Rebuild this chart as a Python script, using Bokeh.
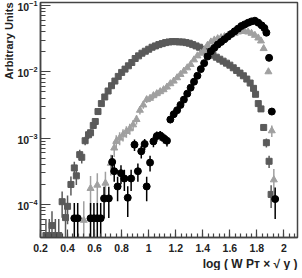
import numpy as np
from bokeh.plotting import figure
from bokeh.models import Range1d, SingleIntervalTicker, LogTicker, CustomJSTickFormatter, Title
from bokeh.embed import file_html
from bokeh.resources import INLINE

# ---- data (x = log(W PT sqrt y), y values given as log10 of arbitrary units) ----
sq_x = [0.24, 0.265, 0.285, 0.31, 0.335, 0.36, 0.385, 0.40, 0.425, 0.45, 0.465, 0.49, 0.505, 0.53, 0.555,
        0.57, 0.59, 0.605, 0.625, 0.65, 0.675, 0.70, 0.725, 0.75, 0.775, 0.80, 0.825, 0.85, 0.875, 0.90,
        0.925, 0.95, 0.975, 1.00, 1.025, 1.05, 1.075, 1.10, 1.125, 1.15, 1.175, 1.20, 1.225, 1.25, 1.275,
        1.30, 1.325, 1.35, 1.375, 1.40, 1.425, 1.45, 1.475, 1.50, 1.525, 1.55, 1.575, 1.60, 1.625, 1.65,
        1.675, 1.70, 1.725, 1.75, 1.775, 1.79, 1.81, 1.83, 1.85, 1.87, 1.89, 1.905]
sq_log = [-4.47, -4.47, -4.32, -4.47, -4.47, -3.96, -4.2, -4.03, -3.70, -3.45, -3.57, -3.25, -3.29, -3.04, -2.95,
          -2.92, -2.81, -2.75, -2.6, -2.48, -2.38, -2.29, -2.21, -2.14, -2.07, -2.01, -1.96, -1.91, -1.86, -1.80,
          -1.76, -1.72, -1.69, -1.66, -1.63, -1.61, -1.59, -1.575, -1.56, -1.55, -1.545, -1.545, -1.55, -1.55, -1.56,
          -1.57, -1.59, -1.61, -1.63, -1.66, -1.69, -1.72, -1.75, -1.78, -1.81, -1.84, -1.87, -1.90, -1.94, -1.98,
          -2.02, -2.06, -2.11, -2.17, -2.25, -2.34, -2.48, -2.56, -2.84, -3.07, -3.35, -3.85]

tr_x = [0.52, 0.57, 0.62, 0.68, 0.72, 0.745, 0.76, 0.785, 0.81, 0.835, 0.86, 0.885, 0.91, 0.935, 0.96,
        0.985, 1.01, 1.035, 1.06, 1.085, 1.11, 1.135, 1.16, 1.185, 1.21, 1.235, 1.26, 1.285, 1.31, 1.335,
        1.36, 1.385, 1.41, 1.435, 1.46, 1.485, 1.51, 1.535, 1.56, 1.585, 1.61, 1.635, 1.66, 1.685, 1.71,
        1.735, 1.76, 1.785, 1.81, 1.83, 1.85, 1.885, 1.91, 1.925]
tr_log = [-4.24, -3.76, -3.71, -3.68, -3.38, -3.15, -3.05, -3.0, -2.95, -2.9, -2.86, -2.8, -2.72, -2.58, -2.5,
          -2.42, -2.4, -2.36, -2.33, -2.3, -2.27, -2.23, -2.18, -2.14, -2.09, -2.04, -1.99, -1.94, -1.89, -1.82,
          -1.76, -1.72, -1.68, -1.6, -1.55, -1.52, -1.5, -1.485, -1.47, -1.45, -1.435, -1.42, -1.40, -1.39, -1.39,
          -1.4, -1.42, -1.45, -1.49, -1.535, -1.65, -2.0, -2.89, -3.63]

ci_x = [0.45, 0.475, 0.57, 0.595, 0.62, 0.645, 0.67, 0.705, 0.73, 0.745, 0.77, 0.795, 0.82, 0.845, 0.87,
        0.895, 0.92, 0.945, 0.97, 0.985, 1.01, 1.035, 1.06, 1.085, 1.11, 1.135, 1.16, 1.185, 1.21, 1.235,
        1.26, 1.285, 1.31, 1.335, 1.36, 1.385, 1.41, 1.435, 1.46, 1.485, 1.51, 1.535, 1.56, 1.585, 1.61,
        1.635, 1.66, 1.685, 1.71, 1.735, 1.76, 1.785, 1.81, 1.835, 1.855, 1.87, 1.89, 1.91, 1.935]
ci_log = [-4.21, -4.21, -4.21, -4.21, -4.21, -4.21, -3.91, -3.91, -3.36, -3.5, -3.73, -3.53, -3.61, -3.9, -3.61,
          -3.1, -3.5, -3.2, -3.09, -3.73, -3.37, -3.05, -2.97, -2.96, -3.0, -3.04, -2.72, -2.64, -2.58, -2.5,
          -2.42, -2.33, -2.24, -2.15, -2.06, -1.96, -1.87, -1.77, -1.69, -1.64, -1.59, -1.55, -1.51, -1.47, -1.43,
          -1.39, -1.35, -1.31, -1.285, -1.26, -1.24, -1.23, -1.26, -1.3, -1.34, -1.41, -1.79, -2.6, -3.92]

# per-event weight of each sample (sets the size of the statistical error bars)
sq_unit, tr_unit, ci_unit = 2e-5, 5e-5, 3e-5

x_ticks_interval = 0.2
FONT = "Liberation Sans"
SQ_COL, TR_COL, CI_COL = "#5a5a5a", "#a0a0a0", "#000000"

p = figure(width=299, height=270, x_range=Range1d(0.2, 2.1), y_range=Range1d(10 ** -4.5, 10 ** -0.955),
           y_axis_type="log", output_backend="svg", toolbar_location=None,
           min_border_top=2, min_border_right=2, min_border_left=38, min_border_bottom=31)
p.background_fill_color = "white"
p.border_fill_color = "white"
p.grid.visible = False
p.outline_line_color = "#444444"
p.outline_line_width = 1.5


def series(xs, logs, unit, color, marker, size):
    xs = np.array(xs)
    ys = 10.0 ** np.array(logs)
    err = np.sqrt(ys * unit)
    lo = np.clip(ys - err, 1e-7, None)
    hi = ys + err
    p.segment(x0=xs, y0=lo, x1=xs, y1=hi, line_color=color, line_width=1.5)
    p.scatter(xs, ys, marker=marker, size=size, fill_color=color, line_color=color)


series(sq_x, sq_log, sq_unit, SQ_COL, "square", 6)
series(tr_x, tr_log, tr_unit, TR_COL, "triangle", 7)
series(ci_x, ci_log, ci_unit, CI_COL, "circle", 7)

for ax in (p.xaxis[0], p.yaxis[0]):
    ax.axis_line_color = "#444444"
    ax.axis_line_width = 1.5
    ax.major_tick_line_color = "#444444"
    ax.minor_tick_line_color = "#444444"
    ax.major_tick_line_width = 1.2
    ax.minor_tick_line_width = 1.2
    ax.major_tick_out = 0
    ax.minor_tick_out = 0
    ax.major_label_text_font = FONT
    ax.major_label_text_font_style = "bold"
    ax.major_label_text_font_size = "10.5px"
    ax.major_label_text_color = "#222222"

p.xaxis.ticker = SingleIntervalTicker(interval=x_ticks_interval, num_minor_ticks=5)
p.xaxis.formatter = CustomJSTickFormatter(code="return (Math.round(tick*10)/10).toString();")
p.xaxis.major_tick_in = 8
p.xaxis.minor_tick_in = 4
p.xaxis.major_label_standoff = 6

p.yaxis.ticker = LogTicker(num_minor_ticks=10)
p.yaxis.major_tick_in = 10
p.yaxis.minor_tick_in = 5
p.yaxis.major_label_standoff = 3

p.add_layout(Title(text="Arbitrary Units", align="right", text_font=FONT, text_font_style="bold",
                   text_font_size="11px", text_color="#222222", standoff=0), "left")
p.add_layout(Title(text="log ( W Pᴛ × √ y )", align="right", text_font=FONT, text_font_style="bold",
                   text_font_size="12px", text_color="#222222", standoff=0), "below")

open("out.html", "w").write(file_html(p, INLINE))
